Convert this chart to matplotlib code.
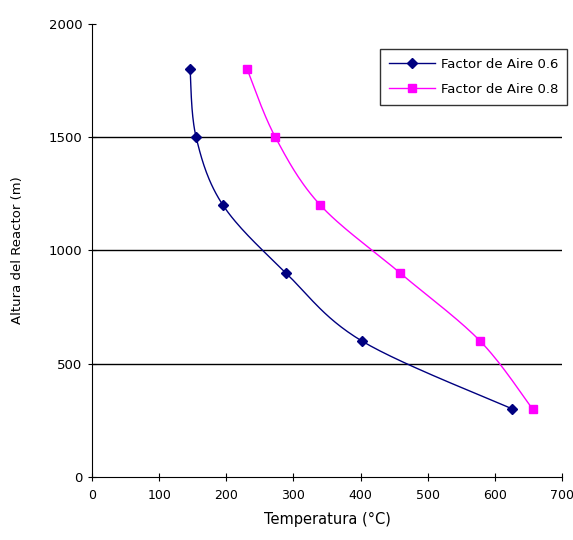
import numpy as np
import matplotlib
matplotlib.use("Agg")
import matplotlib.pyplot as plt

plt.rcParams['font.family'] = ['DejaVu Sans']

# data
altura = [1800, 1500, 1200, 900, 600, 300]
temp_06 = [146, 155, 195, 289, 402, 626]
temp_08 = [231, 273, 340, 459, 578, 656]


def smooth(x, y, n=30):
    """Catmull-Rom style smoothing, like Excel's smoothed line."""
    pts = np.column_stack([x, y]).astype(float)
    p = np.vstack([pts[0], pts, pts[-1]])
    out = []
    t = np.linspace(0, 1, n)[:, None]
    for i in range(1, len(p) - 2):
        p0, p1, p2, p3 = p[i - 1], p[i], p[i + 1], p[i + 2]
        c1 = p1 + (p2 - p0) / 6
        c2 = p2 - (p3 - p1) / 6
        seg = ((1 - t) ** 3) * p1 + 3 * ((1 - t) ** 2) * t * c1 + 3 * (1 - t) * t ** 2 * c2 + t ** 3 * p2
        out.append(seg)
    out = np.vstack(out)
    return out[:, 0], out[:, 1]


fig = plt.figure(figsize=(5.73, 5.40), dpi=100)
ax = fig.add_axes([0.1606, 0.1167, 0.8204, 0.8389])

for temps, color, marker, ms, label in [
    (temp_06, '#000080', 'D', 5, 'Factor de Aire 0.6'),
    (temp_08, '#FF00FF', 's', 6, 'Factor de Aire 0.8'),
]:
    sx, sy = smooth(temps, altura)
    ax.plot(sx, sy, color=color, lw=1.0)
    ax.plot(temps, altura, linestyle='none', marker=marker, ms=ms, color=color)
    ax.plot([], [], color=color, lw=1.0, marker=marker, ms=ms, label=label)

ax.set_xlim(0, 700)
ax.set_ylim(0, 2000)
ax.set_xticks(range(0, 701, 100))
ax.set_yticks(range(0, 2001, 500))
for yv in [500, 1000, 1500]:
    ax.axhline(yv, color='black', lw=1.0, zorder=0)

ax.spines['top'].set_visible(False)
ax.spines['right'].set_visible(False)
ax.spines['left'].set_color('black')
ax.spines['bottom'].set_color('black')
ax.tick_params(axis='both', labelsize=9.5, direction='inout', length=6, color='black')
ax.tick_params(axis='x', pad=6, labelsize=9)
ax.tick_params(axis='y', pad=4)

ax.set_xlabel('Temperatura (°C)', fontsize=10.5, labelpad=7)
ax.set_ylabel('Altura del Reactor (m)', fontsize=9.5, labelpad=18)

leg = ax.legend(loc='upper right', bbox_to_anchor=(1.025, 0.96), fontsize=9.5,
                frameon=True, fancybox=False, edgecolor='black', handlelength=3.5,
                borderpad=0.7, labelspacing=0.9, handletextpad=0.4)
leg.get_frame().set_linewidth(1.0)

fig.savefig('out.png', dpi=100)
